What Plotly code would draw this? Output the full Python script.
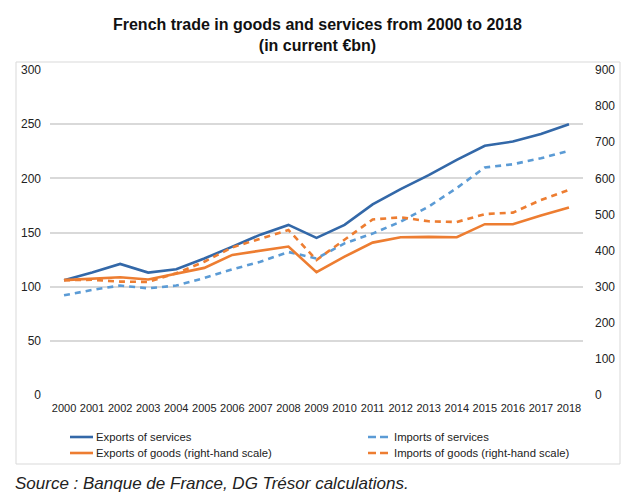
import plotly.graph_objects as go

years = [str(y) for y in range(2000, 2019)]
exports_services = [106, 113, 121, 113, 116, 126, 137, 148, 157, 145, 157, 176, 190, 203, 217, 230, 234, 241, 250]
imports_services = [92, 97, 101, 98.5, 101, 108, 116, 123, 132, 126, 140, 149, 160, 174, 191, 210, 213, 218.5, 225.5]
exports_goods = [318, 323, 326, 320, 335, 352, 388, 399, 411, 340, 383, 422, 437, 438, 437, 473, 473, 497, 519]
imports_goods = [318, 319, 314, 313, 337, 369, 409, 434, 457, 374, 429, 486, 492, 481, 479, 501, 505, 540, 568]

series_names = ["Exports of services", "Imports of services",
                "Exports of goods (right-hand scale)", "Imports of goods (right-hand scale)"]

DARK_BLUE = "#3368A8"
LIGHT_BLUE = "#5B9BD5"
ORANGE = "#ED7D31"
FONT = "Liberation Sans, Arial, sans-serif"
DASH = "6px,5px"

W, H = 635, 503
L, R, T, B = 50, 52, 70, 108
PW, PH = W - L - R, H - T - B


def px_x(px):
    return (px - L) / PW


def px_y(py):
    return (H - B - py) / PH


fig = go.Figure()
fig.add_trace(go.Scatter(x=years, y=exports_services, name=series_names[0], mode="lines",
                         line=dict(color=DARK_BLUE, width=2.6)))
fig.add_trace(go.Scatter(x=years, y=imports_services, name=series_names[1], mode="lines",
                         line=dict(color=LIGHT_BLUE, width=2.6, dash=DASH)))
fig.add_trace(go.Scatter(x=years, y=exports_goods, name=series_names[2], mode="lines",
                         line=dict(color=ORANGE, width=2.6), yaxis="y2"))
fig.add_trace(go.Scatter(x=years, y=imports_goods, name=series_names[3], mode="lines",
                         line=dict(color=ORANGE, width=2.6, dash=DASH), yaxis="y2"))

# manual two-column legend
legend_items = [
    (series_names[0], DARK_BLUE, "solid", 70, 437),
    (series_names[2], ORANGE, "solid", 70, 453),
    (series_names[1], LIGHT_BLUE, "8px,4px", 368, 437),
    (series_names[3], ORANGE, "8px,4px", 368, 453),
]
shapes = [dict(type="rect", xref="paper", yref="paper",
               x0=px_x(16), x1=px_x(620), y0=px_y(464), y1=px_y(62),
               line=dict(color="#D9D9D9", width=1), fillcolor="rgba(0,0,0,0)", layer="below")]
annotations = []
for name, color, dash, x0, yc in legend_items:
    shapes.append(dict(type="line", xref="paper", yref="paper",
                       x0=px_x(x0), x1=px_x(x0 + 23), y0=px_y(yc), y1=px_y(yc),
                       line=dict(color=color, width=2.6, dash=dash)))
    annotations.append(dict(text=name, xref="paper", yref="paper", x=px_x(x0 + 24), y=px_y(yc),
                            xanchor="left", yanchor="middle", showarrow=False,
                            font=dict(family=FONT, size=11.3, color="#222222")))

annotations.append(dict(text="<i>Source : Banque de France, DG Trésor calculations.</i>",
                        xref="paper", yref="paper", x=px_x(13), y=px_y(483),
                        xanchor="left", yanchor="middle", showarrow=False,
                        font=dict(family=FONT, size=17, color="#222222")))

fig.update_layout(
    width=W, height=H,
    margin=dict(l=L, r=R, t=T, b=B),
    paper_bgcolor="white", plot_bgcolor="white",
    showlegend=False,
    font=dict(family=FONT, size=11, color="#222222"),
    title=dict(text="<b>French trade in goods and services from 2000 to 2018<br>(in current €bn)</b>",
               x=0.5, xref="container", xanchor="center", y=1 - 30 / H, yanchor="middle",
               font=dict(family=FONT, size=16, color="#111111")),
    xaxis=dict(type="category", range=[-0.5, 18.5], showgrid=False, showline=False, ticks="",
               tickfont=dict(size=11, color="#222222"), automargin=False, ticklabelstandoff=5),
    yaxis=dict(range=[0, 300], dtick=50, showgrid=True, gridcolor="#D9D9D9", gridwidth=1.5,
               zeroline=False, showline=False, ticks="", tickfont=dict(size=12, color="#222222"),
               automargin=False, ticklabelstandoff=8),
    yaxis2=dict(range=[0, 900], dtick=100, overlaying="y", side="right", showgrid=False,
                zeroline=False, showline=False, ticks="", tickfont=dict(size=12, color="#222222"),
                automargin=False, ticklabelstandoff=11),
    shapes=shapes,
    annotations=annotations,
)

fig.write_html("out.html", config={"displayModeBar": False},
               post_script="document.body.style.margin='0';")
